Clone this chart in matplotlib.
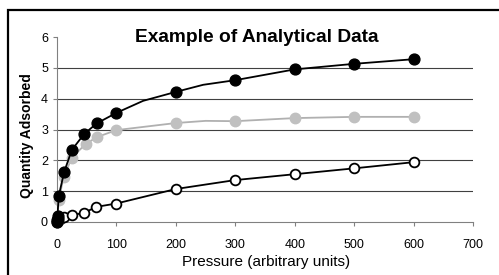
import matplotlib
matplotlib.use("Agg")
import matplotlib.pyplot as plt
from matplotlib.patches import Rectangle

plt.rcParams['font.family'] = ['Liberation Sans', 'DejaVu Sans']

# data
black_x = [0, 0.5, 1, 2, 3, 12, 25, 46, 67, 100, 200, 300, 400, 500, 600]
black_y = [0, 0.05, 0.1, 0.2, 0.85, 1.62, 2.34, 2.86, 3.2, 3.54, 4.22, 4.6, 4.95, 5.13, 5.28]
black_curve_x = [0, 3, 12, 25, 46, 67, 100, 145, 200, 246, 300, 400, 500, 600]
black_curve_y = [0, 0.85, 1.62, 2.34, 2.86, 3.2, 3.54, 3.93, 4.22, 4.45, 4.6, 4.95, 5.13, 5.28]

gray_x = [0, 3, 11, 25, 48, 68, 100, 200, 300, 400, 500, 600]
gray_y = [0, 0.7, 1.46, 2.08, 2.53, 2.76, 2.98, 3.21, 3.27, 3.37, 3.41, 3.41]
gray_curve_x = [0, 3, 11, 25, 48, 68, 100, 200, 250, 300, 400, 500, 600]
gray_curve_y = [0, 0.7, 1.46, 2.08, 2.53, 2.76, 2.98, 3.21, 3.28, 3.27, 3.37, 3.41, 3.41]

open_x = [0, 5, 12, 25, 46, 66, 100, 200, 300, 400, 500, 600]
open_y = [0, 0.1, 0.17, 0.22, 0.3, 0.49, 0.6, 1.07, 1.36, 1.55, 1.74, 1.94]

x_ticks = [0, 100, 200, 300, 400, 500, 600, 700]
y_ticks = [0, 1, 2, 3, 4, 5, 6]

W, H = 499, 275
fig = plt.figure(figsize=(W / 100, H / 100), dpi=100)
fig.patch.set_facecolor('white')

# outer frame
fig.patches.append(Rectangle((8 / W, -0.1), 1.2, (H - 10) / H + 0.1, transform=fig.transFigure,
                             fill=False, edgecolor='black', linewidth=1.6, zorder=0))

ax = fig.add_axes([57 / W, (H - 222) / H, (473 - 57) / W, (222 - 37) / H])
ax.set_xlim(0, 700)
ax.set_ylim(0, 6)
ax.set_xticks(x_ticks)
ax.set_yticks(y_ticks)
ax.set_xticklabels([str(v) for v in x_ticks])
ax.set_yticklabels([str(v) for v in y_ticks])
for yy in y_ticks[1:-1]:
    ax.axhline(yy, color='#404040', linewidth=0.8, zorder=1)

for s in ['top', 'right']:
    ax.spines[s].set_visible(False)
ax.spines['left'].set_color('#808080')
ax.spines['bottom'].set_color('#808080')
ax.spines['left'].set_linewidth(0.8)
ax.spines['bottom'].set_linewidth(0.8)
ax.tick_params(axis='both', direction='out', length=3, width=0.8, color='#808080',
               labelsize=9, labelcolor='black', pad=3.5)
ax.tick_params(axis='x', pad=9)

ax.plot(open_x, open_y, color='black', linewidth=1.3, zorder=2)
ax.plot(open_x, open_y, linestyle='none', marker='o', markersize=7, markerfacecolor='white',
        markeredgecolor='black', markeredgewidth=1.3, zorder=3, clip_on=False)

ax.plot(gray_curve_x, gray_curve_y, color='#b0b0b0', linewidth=1.3, zorder=4)
ax.plot(gray_x, gray_y, linestyle='none', marker='o', markersize=7.5, markerfacecolor='#c0c0c0',
        markeredgecolor='#c0c0c0', zorder=5, clip_on=False)

ax.plot(black_curve_x, black_curve_y, color='black', linewidth=1.3, zorder=6)
ax.plot(black_x, black_y, linestyle='none', marker='o', markersize=7.8, markerfacecolor='black',
        markeredgecolor='black', zorder=7, clip_on=False)

fig.text(257 / W, 1 - 37 / H, 'Example of Analytical Data', ha='center', va='center',
         fontsize=13.8, fontweight='bold')
fig.text(266 / W, 1 - 262 / H, 'Pressure (arbitrary units)', ha='center', va='center',
         fontsize=11)
fig.text(27 / W, 1 - 136 / H, 'Quantity Adsorbed', ha='center', va='center',
         fontsize=10, fontweight='bold', rotation=90)

fig.savefig('out.png', dpi=100)
